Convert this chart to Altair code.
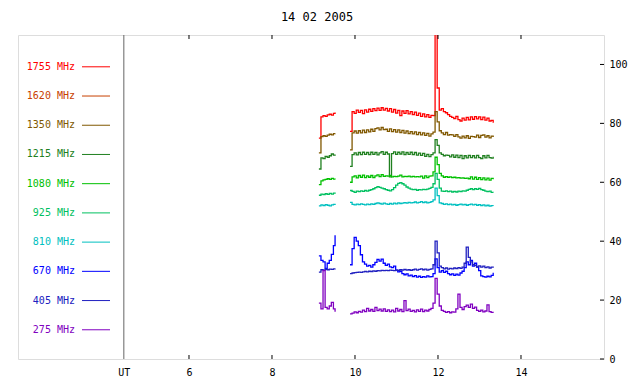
import altair as alt
import pandas as pd

# ---------------- data ----------------
title_text = "14 02 2005"
freqs = ["1755 MHz", "1620 MHz", "1350 MHz", "1215 MHz", "1080 MHz",
         "925 MHz", "810 MHz", "670 MHz", "405 MHz", "275 MHz"]
colors = ["#ff0000", "#c84000", "#805800", "#208020", "#00c000",
          "#00c060", "#00c0c0", "#0000ff", "#2020c0", "#8000c0"]

t_seg1 = [9.13, 9.18, 9.23, 9.28, 9.33, 9.38, 9.43, 9.48, 9.52]
t_seg2 = [9.88, 9.93, 9.98, 10.03, 10.08, 10.13, 10.18, 10.23, 10.28, 10.33,
          10.38, 10.43, 10.48, 10.53, 10.58, 10.63, 10.68, 10.73, 10.78, 10.83,
          10.88, 10.93, 10.98, 11.03, 11.08, 11.13, 11.18, 11.23, 11.28, 11.33,
          11.38, 11.43, 11.48, 11.53, 11.58, 11.63, 11.68, 11.73, 11.78, 11.83,
          11.88, 11.93, 11.98, 12.03, 12.08, 12.13, 12.18, 12.23, 12.28, 12.33,
          12.38, 12.43, 12.48, 12.53, 12.58, 12.63, 12.68, 12.73, 12.78, 12.83,
          12.88, 12.93, 12.98, 13.03, 13.08, 13.13, 13.18, 13.23, 13.28, 13.33]

s1755_a = [75.0, 82.2, 82.6, 82.4, 82.9, 83.1, 82.8, 83.4, 83.7]
s1755_b = [77.3, 84.0, 83.4, 84.5, 83.7, 84.4, 83.3, 84.6, 83.8, 84.8,
           84.1, 85.0, 84.3, 85.2, 84.4, 85.3, 84.5, 85.1, 84.2, 85.0,
           83.8, 84.7, 83.5, 84.4, 82.6, 84.2, 83.4, 84.3, 83.2, 84.0,
           83.0, 83.8, 82.7, 83.5, 82.4, 83.2, 82.2, 83.0, 82.0, 82.7,
           82.6, 112.0, 92.0, 84.5, 85.0, 84.0, 83.6, 83.0, 82.4, 82.0,
           81.6, 82.4, 81.3, 80.8, 81.8, 81.1, 82.0, 81.2, 82.2, 81.4,
           82.3, 81.5, 82.2, 81.3, 82.1, 81.1, 81.8, 80.8, 81.0, 80.2]

s1350_a = [70.0, 75.5, 75.8, 75.6, 76.0, 76.3, 76.1, 76.5, 76.6]
s1350_b = [71.0, 76.8, 77.4, 76.7, 77.5, 76.8, 77.7, 76.9, 77.8, 77.1,
           78.0, 77.3, 78.2, 78.5, 77.8, 78.6, 77.9, 78.0, 77.3, 78.1,
           77.2, 77.9, 77.0, 77.8, 76.9, 77.6, 76.7, 77.4, 76.5, 77.2,
           76.4, 77.1, 76.2, 76.9, 76.1, 76.8, 75.9, 76.6, 75.7, 76.4,
           77.0, 84.0, 80.5, 77.5, 76.8, 76.2, 76.9, 76.0, 76.2, 76.1,
           75.6, 76.2, 75.4, 75.0, 75.7, 75.1, 75.8, 74.9, 75.6, 75.5,
           75.3, 76.0, 75.2, 75.9, 76.1, 75.3, 75.8, 75.1, 75.7, 75.4]

s1215_a = [64.5, 68.3, 68.0, 68.8, 68.5, 69.0, 69.6, 69.2, 69.4]
s1215_b = [65.4, 69.4, 70.0, 69.3, 70.1, 69.4, 70.2, 69.5, 70.1, 69.4,
           70.2, 69.5, 70.1, 69.3, 70.0, 70.4, 69.5, 70.2, 69.6, 61.8,
           69.7, 70.3, 69.5, 70.2, 69.6, 70.3, 69.4, 70.1, 69.5, 70.2,
           69.4, 70.1, 69.2, 69.9, 69.1, 69.8, 68.8, 69.5, 68.7, 69.4,
           70.0, 74.5, 72.5, 70.0, 69.5, 69.0, 69.2, 69.1, 68.6, 69.3,
           68.5, 69.2, 68.4, 69.1, 68.0, 69.0, 68.3, 69.1, 68.4, 69.0,
           68.3, 69.1, 68.4, 68.0, 69.0, 68.3, 69.1, 68.4, 68.2, 68.7]

s1080_a = [59.2, 60.5, 60.8, 61.0, 61.2, 61.0, 61.3, 61.1, 60.9]
s1080_b = [60.0, 61.8, 62.2, 61.5, 62.3, 61.7, 62.4, 61.6, 62.2, 61.7,
           62.3, 61.6, 62.2, 62.5, 61.9, 62.6, 62.0, 62.2, 62.1, 62.3,
           61.8, 62.0, 61.9, 62.1, 62.4, 61.8, 62.0, 61.9, 62.1, 61.8,
           62.0, 61.8, 61.9, 61.8, 62.1, 61.4, 62.2, 61.6, 62.1, 62.2,
           63.5, 68.5, 66.0, 63.0, 62.2, 61.7, 61.9, 61.7, 61.8, 61.6,
           61.7, 61.5, 61.6, 61.4, 61.5, 61.3, 61.4, 61.2, 61.8, 61.1,
           61.7, 61.0, 61.6, 60.9, 61.5, 60.8, 61.4, 60.7, 61.3, 61.0]

s925_a = [55.6, 56.0, 55.8, 56.1, 55.9, 56.2, 56.0, 56.3, 56.1]
s925_b = [57.2, 56.9, 56.6, 57.0, 56.8, 57.1, 56.9, 57.2, 57.0, 57.3,
          57.5, 57.8, 58.2, 58.5, 58.3, 58.0, 57.8, 57.5, 57.3, 57.1,
          57.5, 58.2, 59.0, 59.6, 59.9, 59.5, 59.0, 58.4, 58.0, 57.7,
          57.5, 57.6, 57.3, 57.5, 57.4, 57.6, 57.5, 57.7, 57.9, 58.3,
          59.5, 63.0, 61.0, 58.0, 57.0, 56.9, 57.1, 56.8, 57.0, 56.7,
          56.9, 56.7, 57.0, 56.8, 57.1, 57.0, 57.3, 57.6, 57.8, 57.5,
          57.8, 57.6, 57.9, 57.5, 57.3, 57.0, 56.8, 57.0, 56.6, 56.5]

s810_a = [52.0, 52.3, 52.1, 52.4, 52.2, 52.0, 52.3, 52.5, 52.3]
s810_b = [53.2, 52.5, 52.3, 52.6, 52.4, 52.7, 52.5, 52.3, 52.6, 52.4,
          52.7, 52.5, 52.8, 53.0, 52.8, 52.6, 52.9, 52.7, 52.5, 52.8,
          52.6, 52.9, 52.7, 53.0, 52.8, 52.9, 53.1, 52.9, 53.2, 53.0,
          53.1, 53.3, 53.0, 53.2, 53.4, 53.1, 53.3, 53.0, 53.2, 53.4,
          54.0, 58.0, 55.5, 53.0, 52.8, 52.5, 52.7, 52.4, 52.6, 52.3,
          52.5, 52.2, 52.4, 52.6, 52.3, 52.5, 52.2, 52.4, 52.6, 52.3,
          52.5, 52.2, 52.4, 52.1, 52.3, 52.0, 52.2, 51.9, 52.1, 52.0]

s670_a = [35.0, 33.5, 33.0, 30.8, 32.5, 33.5, 35.5, 38.5, 42.0]
s670_b = [32.0, 37.5, 41.3, 40.0, 38.5, 35.4, 33.0, 32.2, 31.5, 31.8,
          31.2, 32.0, 32.8, 33.8, 33.2, 33.9, 32.5, 31.8, 32.2, 31.3,
          31.0, 31.5, 30.2, 29.6, 29.8, 29.0, 28.6, 28.9, 28.2, 28.5,
          28.0, 28.3, 27.8, 28.1, 27.7, 28.0, 27.8, 28.2, 27.9, 28.0,
          29.0, 34.0, 31.0, 29.5, 30.0, 29.4, 29.8, 29.0, 28.6, 28.9,
          28.4, 28.8, 28.5, 29.2, 29.8, 31.0, 33.0, 32.0, 33.5, 31.5,
          32.5, 31.2, 30.0, 28.2, 28.0, 27.8, 28.1, 27.9, 28.4, 29.3]

s405_a = [29.5, 30.3, 30.2, 30.4, 30.3, 30.5, 30.4, 30.6, 30.7]
s405_b = [29.0, 29.2, 29.3, 29.4, 29.5, 29.4, 29.6, 29.7, 29.6, 29.8,
          29.7, 29.9, 29.8, 30.0, 29.9, 30.1, 30.0, 30.1, 30.0, 30.2,
          30.1, 30.0, 30.2, 30.1, 30.3, 30.2, 30.4, 30.2, 30.3, 30.1,
          30.3, 30.5, 30.2, 30.4, 30.6, 30.3, 30.5, 30.2, 30.4, 30.6,
          32.0, 40.0, 36.0, 31.5, 31.0, 30.6, 30.9, 30.5, 30.8, 30.6,
          30.9, 30.7, 31.0, 30.8, 31.2, 32.5, 38.0, 34.5, 33.0, 32.0,
          31.8, 31.3, 31.6, 31.2, 31.5, 31.0, 31.3, 30.9, 31.2, 31.0]

s275_a = [19.0, 17.0, 30.0, 17.5, 17.0, 18.0, 19.2, 17.0, 16.0]
s275_b = [15.3, 15.6, 16.0, 15.7, 16.2, 15.9, 16.6, 16.1, 17.2, 16.3,
          16.8, 16.2, 17.5, 16.4, 16.9, 16.3, 17.0, 16.2, 16.7, 16.1,
          16.6, 16.0, 17.2, 16.3, 16.8, 16.1, 19.8, 16.4, 16.9, 16.2,
          16.5, 16.0, 16.7, 16.2, 16.9, 16.1, 16.6, 16.3, 16.8, 17.2,
          19.0, 27.4, 22.0, 18.0, 16.5, 16.2, 15.8, 16.1, 15.7, 16.0,
          15.9, 17.0, 22.0, 17.5, 16.8, 17.8, 18.3, 17.5, 18.6, 17.2,
          17.6, 16.5, 16.2, 16.6, 16.0, 16.3, 18.4, 16.1, 15.8, 15.7]

x_ticks = [6, 8, 10, 12, 14]
y_ticks = [0, 20, 40, 60, 80, 100]
ut_pos = [4.43]

# ---------------- tables ----------------
series = {
    "1755 MHz": (s1755_a, s1755_b),
    "1350 MHz": (s1350_a, s1350_b),
    "1215 MHz": (s1215_a, s1215_b),
    "1080 MHz": (s1080_a, s1080_b),
    "925 MHz": (s925_a, s925_b),
    "810 MHz": (s810_a, s810_b),
    "670 MHz": (s670_a, s670_b),
    "405 MHz": (s405_a, s405_b),
    "275 MHz": (s275_a, s275_b),
}
rows = []
for name, (a, b) in series.items():
    for t, v in zip(t_seg1, a):
        rows.append({"series": name, "seg": name + "a", "t": t, "v": v})
    for t, v in zip(t_seg2, b):
        rows.append({"series": name, "seg": name + "b", "t": t, "v": v})
df = pd.DataFrame(rows)

leg = pd.DataFrame({"series": freqs, "ly": [99.2 - 9.92 * i for i in range(len(freqs))]})

W, H = 586, 324
FONT = "DejaVu Sans Mono"
xscale = alt.Scale(domain=[1.88, 16.0], nice=False, zero=False)
yscale = alt.Scale(domain=[0, 110], nice=False)
cscale = alt.Scale(domain=freqs, range=colors)

lines = alt.Chart(df).mark_line(strokeWidth=1.3, clip=True, interpolate="step-after").encode(
    x=alt.X("t:Q", scale=xscale,
            axis=alt.Axis(values=[4.43] + x_ticks, title=None, grid=False, domain=False,
                          tickSize=0, labelPadding=8, labelFont=FONT, labelFontSize=10,
                          labelColor="#000000",
                          labelExpr="datum.value < 5 ? 'UT' : datum.label")),
    y=alt.Y("v:Q", scale=yscale,
            axis=alt.Axis(orient="right", values=y_ticks, title=None, grid=False,
                          domain=False, tickSize=0, labelPadding=5, labelFont=FONT,
                          labelFontSize=10, labelColor="#000000")),
    color=alt.Color("series:N", scale=cscale, legend=None),
    detail="seg:N",
)

ut_rule = alt.Chart(pd.DataFrame({"u": ut_pos})).mark_rule(color="#666666", strokeWidth=1).encode(
    x=alt.X("u:Q", scale=xscale))

tick_df = pd.DataFrame({"xt": x_ticks})
xt_bottom = alt.Chart(tick_df).mark_rule(color="#000000").encode(
    x=alt.X("xt:Q", scale=xscale), y=alt.value(H), y2=alt.value(H - 4))
xt_top = alt.Chart(tick_df).mark_rule(color="#000000").encode(
    x=alt.X("xt:Q", scale=xscale), y=alt.value(0), y2=alt.value(4))
yt_right = alt.Chart(pd.DataFrame({"yt": y_ticks})).mark_rule(color="#000000").encode(
    y=alt.Y("yt:Q", scale=yscale), x=alt.value(W), x2=alt.value(W - 4))

leg_text = alt.Chart(leg).mark_text(align="right", baseline="middle", font=FONT,
                                    fontSize=10).encode(
    x=alt.value(57), y=alt.Y("ly:Q", scale=yscale),
    text="series:N", color=alt.Color("series:N", scale=cscale, legend=None))
leg_line = alt.Chart(leg).mark_rule(strokeWidth=1).encode(
    x=alt.value(64), x2=alt.value(92), y=alt.Y("ly:Q", scale=yscale),
    color=alt.Color("series:N", scale=cscale, legend=None))

chart = alt.layer(ut_rule, lines, leg_line, leg_text, xt_bottom, xt_top, yt_right).properties(
    width=W, height=H,
    title=alt.TitleParams(title_text, font=FONT, fontSize=12, fontWeight="normal",
                          color="#000000", offset=11, dx=6),
    autosize=alt.AutoSizeParams(type="none"),
    padding={"left": 10, "top": 27, "right": 26, "bottom": 20},
).configure_view(stroke="#000000", strokeWidth=1).configure(background="#ffffff")

chart.save("out.html", embed_options={"renderer": "svg", "actions": False})
